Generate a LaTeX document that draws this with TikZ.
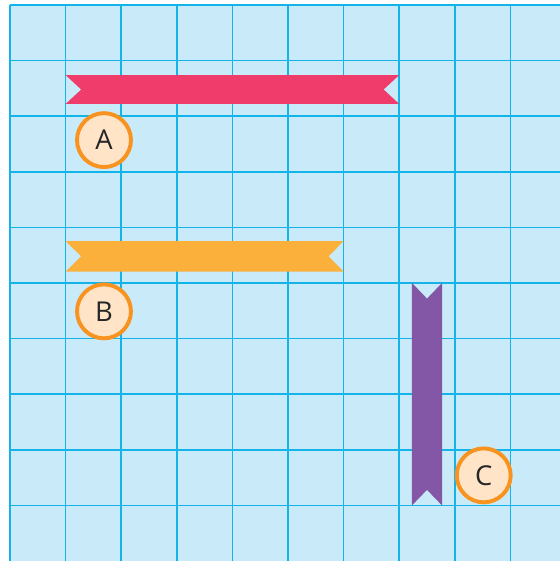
\documentclass[tikz,border=0pt]{standalone}
\usepackage{fontspec}
\setmainfont{Open Sans}
\usetikzlibrary{positioning}
\definecolor{gridBlue}{RGB}{20,180,235}
\definecolor{paleBlue}{RGB}{200,234,249}
\definecolor{ribbonRed}{RGB}{240,60,107}
\definecolor{ribbonGold}{RGB}{250,176,59}
\definecolor{ribbonPurple}{RGB}{131,86,166}
\definecolor{ringOrange}{RGB}{247,147,30}
\definecolor{PalePeach}{RGB}{255,228,200}
\colorlet{DeepInk}{black!85}

\begin{document}
\begin{tikzpicture}[
    x=1cm,y=1cm,
    tag/.style={circle,draw=ringOrange,line width=2pt,fill=PalePeach,minimum size=0.97cm,inner sep=0pt,text=DeepInk,font=\fontsize{14}{16}\selectfont},
    gridline/.style={gridBlue,line width=0.8pt}
  ]
    \useasboundingbox (-0.18,0) rectangle (9.892,10.09);
    % squared paper
    \fill[paleBlue] (0,0) rectangle (9.892,10);
    \foreach \i in {0,...,9} \draw[gridline] (\i,0) -- (\i,10);
    \foreach \j in {1,...,10} \draw[gridline] (0,\j) -- (9.892,\j);
    % ribbons
    \fill[ribbonRed] (1,8.74) -- (7,8.74) -- (6.72,8.48) -- (7,8.22) -- (1,8.22) -- (1.28,8.48) -- cycle;
    \fill[ribbonGold] (1,5.755) -- (6,5.755) -- (5.73,5.48) -- (6,5.205) -- (1,5.205) -- (1.28,5.48) -- cycle;
    \fill[ribbonPurple] (7.23,5) -- (7.5,4.72) -- (7.77,5) -- (7.77,1) -- (7.5,1.28) -- (7.23,1) -- cycle;
    % labels
    \node[tag] (a) at (1.69,7.57) {A};
    \node[tag] (b) at (1.69,4.49) {B};
    \node[tag] (c) at (8.52,1.54) {C};
  \end{tikzpicture}
\end{document}
